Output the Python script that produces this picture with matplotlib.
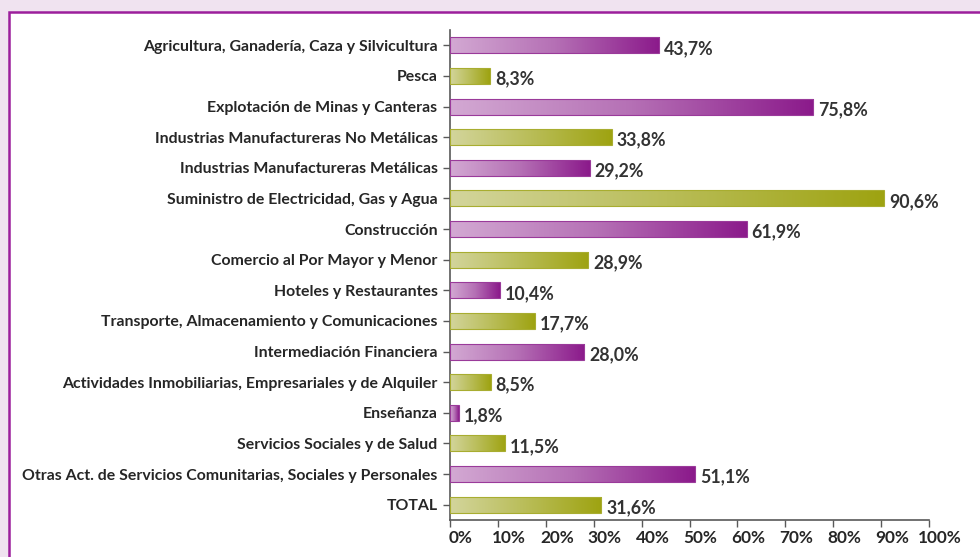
import matplotlib
matplotlib.use("Agg")
import matplotlib.pyplot as plt
import matplotlib.transforms as mtransforms
from matplotlib.patches import Rectangle
from matplotlib.colors import LinearSegmentedColormap
import numpy as np

categories = [
    "Agricultura, Ganadería, Caza y Silvicultura",
    "Pesca",
    "Explotación de Minas y Canteras",
    "Industrias Manufactureras No Metálicas",
    "Industrias Manufactureras Metálicas",
    "Suministro de Electricidad, Gas y Agua",
    "Construcción",
    "Comercio al Por Mayor y Menor",
    "Hoteles y Restaurantes",
    "Transporte, Almacenamiento y Comunicaciones",
    "Intermediación Financiera",
    "Actividades Inmobiliarias, Empresariales y de Alquiler",
    "Enseñanza",
    "Servicios Sociales y de Salud",
    "Otras Act. de Servicios Comunitarias, Sociales y Personales",
    "TOTAL",
]
values = [43.7, 8.3, 75.8, 33.8, 29.2, 90.6, 61.9, 28.9, 10.4, 17.7, 28.0, 8.5, 1.8, 11.5, 51.1, 31.6]
value_labels = ["43,7%", "8,3%", "75,8%", "33,8%", "29,2%", "90,6%", "61,9%", "28,9%",
                "10,4%", "17,7%", "28,0%", "8,5%", "1,8%", "11,5%", "51,1%", "31,6%"]
xticks = [0, 10, 20, 30, 40, 50, 60, 70, 80, 90, 100]
xtick_labels = ["0%", "10%", "20%", "30%", "40%", "50%", "60%", "70%", "80%", "90%", "100%"]

plt.rcParams['font.family'] = ['Lato', 'DejaVu Sans']

W, H = 980, 557
fig = plt.figure(figsize=(W / 100, H / 100), dpi=100)
fig.patch.set_facecolor("#f0e3f0")

# white panel with purple border
panel = Rectangle((9 / W, -0.05), 1.1, (H - 12) / H + 0.05, transform=fig.transFigure,
                  facecolor="white", edgecolor="#9c1f9c", linewidth=1.8, zorder=-10)
fig.add_artist(panel)

ax = fig.add_axes([450 / W, 1 - 520 / H, (929 - 450) / W, (520 - 30) / H])
ax.set_facecolor("none")
ax.set_zorder(1)

purple = LinearSegmentedColormap.from_list("p", ["#d3a9d3", "#b570b5", "#8b1a8b"])
green = LinearSegmentedColormap.from_list("g", ["#d3d59c", "#b9bd58", "#9ea311"])

n = len(categories)
ypos = np.arange(n)
bar_h = 0.52
grad = np.linspace(0, 1, 256).reshape(1, -1)
for i, (y, v) in enumerate(zip(ypos, values)):
    cmap = purple if i % 2 == 0 else green
    edge = "#9a3a9a" if i % 2 == 0 else "#a8ad30"
    bars = ax.barh(y, v, height=bar_h, color="none", edgecolor=edge, linewidth=0.8, zorder=3)
    rect = bars[0]
    im = ax.imshow(grad, cmap=cmap, aspect="auto",
                   extent=(0, v, y + bar_h / 2, y - bar_h / 2), zorder=2,
                   interpolation="bilinear")
    im.set_clip_path(rect)
    off = mtransforms.offset_copy(ax.transData, fig=fig, x=5, y=-3, units="dots")
    ax.text(v, y, value_labels[i], transform=off, ha="left", va="center",
            fontsize=12.8, fontweight="bold", color="#333333", zorder=4)

ax.set_xlim(0, 100)
ax.set_ylim(n - 0.5, -0.5)
ax.set_yticks(ypos)
ax.set_yticklabels(categories, fontsize=11.4, fontweight="bold", color="#262626")
ax.set_xticks(xticks)
ax.set_xticklabels([])
xlab_tr = mtransforms.offset_copy(ax.get_xaxis_transform(), fig=fig, x=11, y=-10, units="dots")
for xv, lab in zip(xticks, xtick_labels):
    ax.text(xv, 0, lab, transform=xlab_tr, ha="center", va="top",
            fontsize=12.4, fontweight="bold", color="#262626", clip_on=False)

for s in ["top", "right"]:
    ax.spines[s].set_visible(False)
for s in ["left", "bottom"]:
    ax.spines[s].set_color("#595959")
    ax.spines[s].set_linewidth(1.2)
ax.tick_params(axis="both", colors="#595959", length=5, width=1.0)
ax.tick_params(axis="y", labelcolor="#262626", pad=4)

fig.savefig("out.png", dpi=100, facecolor=fig.get_facecolor())
